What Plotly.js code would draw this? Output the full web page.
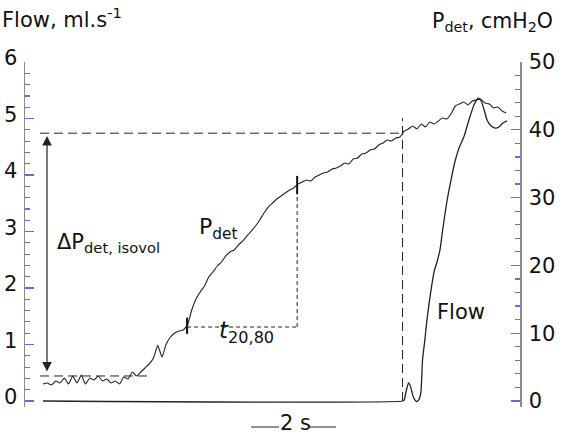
<!DOCTYPE html>
<html>
<head>
<meta charset="utf-8">
<script src="https://cdn.plot.ly/plotly-3.0.1.min.js"></script>
<style>html,body{margin:0;padding:0;background:#fff;}#chart{width:565px;height:436px;}</style>
</head>
<body>
<div id="chart"></div>
<script>
// Time (s) for the detrusor pressure trace
const pdetTime = [0.0,0.1,0.2,0.3,0.4,0.5,0.6,0.7,0.8,0.9,1.0,1.1,1.2,1.3,1.4,1.5,1.6,1.7,1.8,1.9,
  2.0,2.1,2.2,2.3,2.4,2.5,2.6,2.7,2.8,2.9,3.0,3.1,3.2,3.3,3.4,3.5,3.6,3.7,3.8,3.9,
  4.0,4.1,4.2,4.3,4.4,4.5,4.6,4.7,4.8,4.9,5.0,5.1,5.2,5.3,5.4,5.5,5.6,5.7,5.8,5.9,
  6.0,6.1,6.2,6.3,6.4,6.5,6.6,6.7,6.8,6.9,7.0,7.1,7.2,7.3,7.4,7.5,7.6,7.7,7.8,7.9,
  8.0,8.1,8.2,8.3,8.4,8.5,8.6,8.7,8.8,8.9,9.0,9.1,9.2,9.3,9.4,9.5,9.6,9.7,9.8,9.9,
  10.0,10.1,10.2,10.3,10.4,10.5,10.6,10.7,10.8,10.9];
// Detrusor pressure, cmH2O
const pdetValues = [2.51,2.65,2.36,2.95,2.65,3.39,2.51,3.69,2.65,3.83,2.51,3.39,3.10,3.69,2.95,3.24,2.65,2.95,2.51,3.54,
  3.24,4.28,3.69,4.28,4.87,5.46,6.34,8.20,6.49,8.41,9.44,10.03,10.32,10.47,11.21,13.42,15.04,16.08,16.96,18.29,
  19.03,19.91,20.50,21.39,21.98,22.27,23.01,23.60,24.34,25.07,25.81,26.70,27.73,28.61,29.20,29.79,30.24,30.68,31.12,31.42,
  32.01,32.30,32.60,32.45,33.04,33.33,33.63,33.78,34.22,34.37,34.66,35.10,34.96,35.69,35.84,36.43,36.58,37.02,37.17,37.76,
  38.05,38.50,38.35,38.79,38.94,39.82,40.12,40.56,40.12,40.86,40.41,41.15,40.86,41.30,41.74,41.59,42.33,43.51,43.81,44.10,
  43.66,44.25,44.40,44.54,43.95,43.81,43.22,43.36,42.77,42.48];
// Time (s) for the flow trace
const flowTime = [0.0,8.46,8.50,8.54,8.60,8.65,8.70,8.75,8.79,8.84,8.89,8.93,8.98,9.04,9.11,9.20,9.27,9.34,9.41,9.51,9.60,
  9.69,9.79,9.91,10.02,10.14,10.24,10.31,10.38,10.45,10.54,10.64,10.73,10.82,10.92];
// Flow, ml/s
const flowValues = [0,0,0.02,0.16,0.32,0.25,0.10,0.02,-0.01,0.02,0.14,0.73,1.05,1.47,1.86,2.28,2.46,2.67,3.06,3.56,3.91,
  4.23,4.48,4.69,4.97,5.24,5.36,5.31,5.15,4.97,4.87,4.83,4.85,4.92,4.96];
const flowTicks = [0,1,2,3,4,5,6];
const pdetTicks = [0,10,20,30,40,50];

// Marked events
const tOpen = 8.46;         // start of flow
const pBase = 3.69;         // baseline pressure
const pIso = 39.5;          // pressure at flow onset
const t20 = 3.39, t80 = 5.98;
const p20 = 10.91, p80 = 31.86;

const FONT = 'DejaVu Sans, Open Sans, sans-serif';
const tickBlue = '#6b6bd8';
// pixel frame: x 25..520, value 0 at y=401, top value at y=62, plot bottom at y=407
const L = 25, R = 520, T = 62, Z = 401, BOT = 407;
const pad = (BOT - Z) / (Z - T);              // fraction of full scale below zero
const px = v => (v - L) / (R - L);
const py = v => (BOT - v) / (BOT - T);

const traces = [
  {x: flowTime, y: flowValues, type: 'scatter', mode: 'lines', yaxis: 'y',
   line: {color: '#222', width: 1.3, shape: 'spline', smoothing: 0.5}, hoverinfo: 'skip'},
  {x: pdetTime, y: pdetValues, type: 'scatter', mode: 'lines', yaxis: 'y2',
   line: {color: '#222', width: 1.1, shape: 'spline', smoothing: 0.4}, hoverinfo: 'skip'}
];

const dashL = {color: '#222', width: 1, dash: '9px,5px'};
const dashS = {color: '#222', width: 1, dash: '4px,3px'};
const shapes = [
  {type: 'line', xref: 'x', yref: 'y2', x0: -0.07, x1: tOpen, y0: pIso, y1: pIso, line: dashL},
  {type: 'line', xref: 'x', yref: 'y2', x0: tOpen, x1: tOpen, y0: 0, y1: 41.7, line: dashL},
  {type: 'line', xref: 'x', yref: 'y2', x0: -0.07, x1: 2.47, y0: pBase, y1: pBase, line: dashL},
  {type: 'line', xref: 'x', yref: 'y2', x0: t20, x1: t80, y0: p20, y1: p20, line: dashS},
  {type: 'line', xref: 'x', yref: 'y2', x0: t80, x1: t80, y0: p20, y1: p80, line: dashS},
  {type: 'line', xref: 'x', yref: 'y2', x0: t20, x1: t20, y0: 9.9, y1: 12.3, line: {color: '#111', width: 2}},
  {type: 'line', xref: 'x', yref: 'y2', x0: t80, x1: t80, y0: 30.5, y1: 33.2, line: {color: '#111', width: 2}},
  // 2 s scale bar
  {type: 'line', xref: 'paper', yref: 'paper', x0: px(251), x1: px(279), y0: py(427), y1: py(427), line: {color: '#222', width: 1}},
  {type: 'line', xref: 'paper', yref: 'paper', x0: px(309), x1: px(336), y0: py(427), y1: py(427), line: {color: '#222', width: 1}}
];

const annotations = [
  {xref: 'x', yref: 'y2', axref: 'x', ayref: 'y2', x: 0.094, y: 39.1, ax: 0.094, ay: 4.13,
   showarrow: true, arrowside: 'end+start', arrowhead: 2, arrowsize: 1.6, arrowwidth: 1.2,
   arrowcolor: '#222', text: '', standoff: 0, startstandoff: 0},
  {xref: 'paper', yref: 'paper', x: px(0), y: py(18), xanchor: 'left', yanchor: 'middle', showarrow: false,
   text: 'Flow, ml.s<sup>-1</sup>', font: {family: FONT, size: 21, color: '#111'}},
  {xref: 'paper', yref: 'paper', x: px(430), y: py(22), xanchor: 'left', yanchor: 'middle', showarrow: false,
   text: 'P<sub>det</sub>, cmH<sub>2</sub>O', font: {family: FONT, size: 20.5, color: '#111'}},
  {xref: 'paper', yref: 'paper', x: px(55), y: py(243), xanchor: 'left', yanchor: 'middle', showarrow: false,
   text: 'ΔP<sub>det, isovol</sub>', font: {family: FONT, size: 21, color: '#111'}},
  {xref: 'paper', yref: 'paper', x: px(197), y: py(228), xanchor: 'left', yanchor: 'middle', showarrow: false,
   text: 'P<sub>det</sub>', font: {family: FONT, size: 22, color: '#111'}},
  {xref: 'paper', yref: 'paper', x: px(217), y: py(332), xanchor: 'left', yanchor: 'middle', showarrow: false,
   text: '<i>t</i><sub>20,80</sub>', font: {family: FONT, size: 23, color: '#111'}},
  {xref: 'paper', yref: 'paper', x: px(435), y: py(312), xanchor: 'left', yanchor: 'middle', showarrow: false,
   text: 'Flow', font: {family: FONT, size: 21, color: '#111'}},
  {xref: 'paper', yref: 'paper', x: px(295), y: py(423), xanchor: 'center', yanchor: 'middle', showarrow: false,
   text: '2 s', font: {family: FONT, size: 21, color: '#111'}}
];

const baseAxis = {
  showgrid: false, zeroline: false, showline: true, linecolor: '#8a8a8a', linewidth: 1.5,
  ticks: 'inside', ticklen: 9, tickwidth: 1.3, tickcolor: tickBlue,
  tickfont: {family: FONT, size: 21, color: '#111'}, fixedrange: true
};

const layout = {
  width: 565, height: 436,
  margin: {l: L, r: 565 - R, t: T, b: 436 - BOT},
  paper_bgcolor: '#fff', plot_bgcolor: '#fff',
  showlegend: false,
  xaxis: {range: [-18 / 42.5, 477 / 42.5], visible: false, fixedrange: true},
  yaxis: Object.assign({}, baseAxis, {range: [-6 * pad, 6], tickvals: flowTicks, ticktext: flowTicks.map(String),
    ticklabelshift: -4, ticklabelstandoff: 2,
    minor: {dtick: 0.2, tick0: 0, ticks: 'inside', ticklen: 5, tickwidth: 1.2, tickcolor: tickBlue}}),
  yaxis2: Object.assign({}, baseAxis, {range: [-50 * pad, 50], overlaying: 'y', side: 'right',
    tickvals: pdetTicks, ticktext: pdetTicks.map(String), ticklabelstandoff: 3,
    minor: {dtick: 2, tick0: 0, ticks: 'inside', ticklen: 5, tickwidth: 1.2, tickcolor: tickBlue}}),
  shapes: shapes,
  annotations: annotations,
  font: {family: FONT}
};

Plotly.newPlot('chart', traces, layout, {displayModeBar: false, staticPlot: true});
</script>
</body>
</html>
